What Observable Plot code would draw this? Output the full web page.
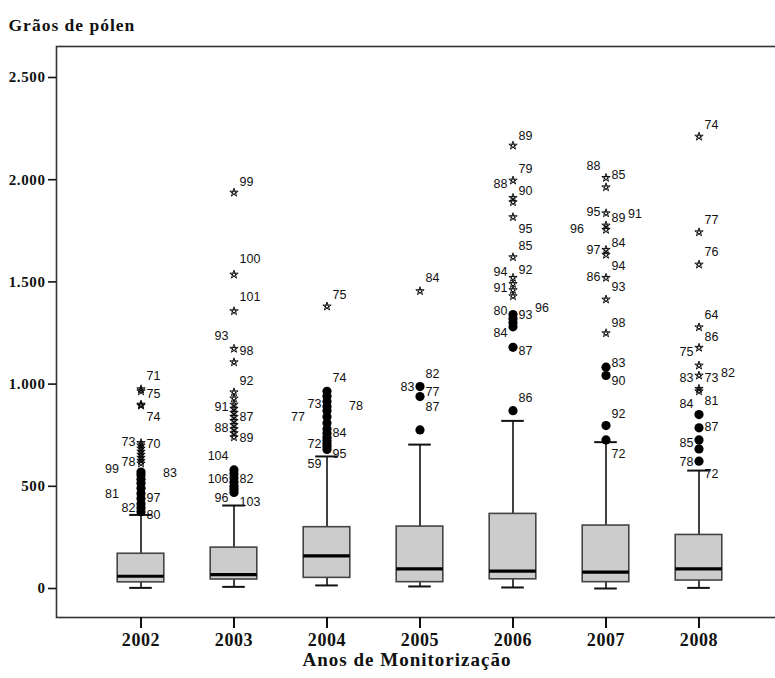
<!DOCTYPE html>
<html>
<head>
<meta charset="utf-8">
<script src="https://cdn.jsdelivr.net/npm/d3@7"></script>
<script src="https://cdn.jsdelivr.net/npm/@observablehq/plot@0.6"></script>
<style>
  html, body { margin: 0; padding: 0; background: #fff; }
  #wrap { width: 775px; height: 678px; overflow: hidden; }
  #wrap svg { max-width: none !important; overflow: visible; }
</style>
</head>
<body>
<div id="wrap"></div>
<script>
// Years of monitoring
const years = ["2002", "2003", "2004", "2005", "2006", "2007", "2008"];

// Box summaries per year (pollen grains)
const whiskerLow  = [3, 8, 15, 10, 5, 0, 3];
const quartile1   = [30, 44, 52, 31, 45, 31, 39];
const medianValue = [60, 68, 160, 96, 85, 80, 96];
const quartile3   = [170, 200, 300, 303, 365, 308, 262];
const whiskerHigh = [360, 406, 646, 704, 820, 716, 577];

// Outliers (circles)
const outlierYear = [
  "2002","2002","2002","2002","2002","2002","2002","2002","2002","2002",
  "2003","2003","2003","2003","2003","2003","2003",
  "2004","2004","2004","2004","2004","2004","2004","2004","2004","2004","2004","2004","2004","2004",
  "2005","2005","2005",
  "2006","2006","2006","2006","2006","2006",
  "2007","2007","2007","2007",
  "2008","2008","2008","2008","2008"
];
const outlierValue = [
  375, 395, 415, 440, 465, 490, 515, 535, 555, 570,
  470, 485, 500, 520, 540, 560, 580,
  680, 695, 710, 725, 740, 760, 780, 810, 840, 870, 890, 915, 940, 965,
  776, 939, 988,
  870, 1180, 1280, 1300, 1320, 1340,
  727, 797, 1042, 1083,
  623, 683, 727, 786, 851
];

// Extreme values (stars)
const extremeYear = [
  "2002","2002","2002","2002","2002","2002","2002","2002","2002","2002","2002","2002",
  "2003","2003","2003","2003","2003","2003","2003","2003","2003","2003","2003","2003","2003","2003","2003","2003",
  "2004",
  "2005",
  "2006","2006","2006","2006","2006","2006","2006","2006","2006","2006",
  "2007","2007","2007","2007","2007","2007","2007","2007","2007","2007",
  "2008","2008","2008","2008","2008","2008","2008","2008","2008"
];
const extremeValue = [
  612, 625, 640, 655, 670, 685, 700, 712, 895, 900, 965, 975,
  740, 760, 780, 800, 820, 840, 860, 880, 900, 930, 960, 1107, 1173, 1357, 1536, 1937,
  1380,
  1455,
  1430, 1460, 1490, 1520, 1621, 1817, 1890, 1911, 1996, 2167,
  1249, 1414, 1520, 1633, 1657, 1755, 1776, 1836, 1963, 2009,
  965, 977, 1042, 1091, 1178, 1278, 1585, 1743, 2211
];

// Case-number labels: year, text, height (pollen grains) and side lane
// (lane 1/2 = right of the marker, -1/-2 = left of it)
const labelYear = [
  "2002","2002","2002","2002","2002","2002","2002","2002","2002","2002","2002","2002",
  "2003","2003","2003","2003","2003","2003","2003","2003","2003","2003","2003","2003","2003","2003","2003",
  "2004","2004","2004","2004","2004","2004","2004","2004","2004",
  "2005","2005","2005","2005","2005",
  "2006","2006","2006","2006","2006","2006","2006","2006","2006","2006","2006","2006","2006","2006","2006",
  "2007","2007","2007","2007","2007","2007","2007","2007","2007","2007","2007","2007","2007","2007","2007","2007",
  "2008","2008","2008","2008","2008","2008","2008","2008","2008","2008","2008","2008","2008","2008","2008"
];
const labelText = [
  "71","75","74","73","70","78","99","83","81","97","82","80",
  "99","100","101","93","98","92","91","87","88","89","104","106","82","96","103",
  "75","74","73","78","77","84","72","95","59",
  "84","82","83","77","87",
  "89","79","88","90","95","85","94","92","91","80","93","96","84","87","86",
  "88","85","95","89","91","96","97","84","94","86","93","98","83","90","92","72",
  "74","77","76","64","86","75","83","73","82","84","81","87","85","78","72"
];
const labelValue = [
  1042, 954, 837, 719, 705, 621, 587, 563, 460, 445, 396, 362,
  1991, 1610, 1424, 1233, 1164, 1013, 890, 837, 783, 734, 646, 538, 538, 445, 421,
  1438, 1032, 905, 895, 841, 763, 709, 660, 611,
  1517, 1047, 988, 959, 886,
  2216, 2050, 1981, 1947, 1761, 1678, 1546, 1556, 1468, 1360, 1340, 1370, 1248, 1164, 934,
  2069, 2021, 1840, 1815, 1830, 1761, 1654, 1688, 1580, 1522, 1473, 1301, 1101, 1013, 856, 660,
  2270, 1805, 1644, 1336, 1228, 1155, 1032, 1032, 1052, 905, 915, 788, 714, 621, 558
];
const labelLane = [
  1, 1, 1, -1, 1, -1, -2, 2, -2, 1, -1, 1,
  1, 1, 1, -1, 1, 1, -1, 1, -1, 1, -1, -1, 1, -1, 1,
  1, 1, -1, 2, -2, 1, -1, 1, -1,
  1, 1, -1, 1, 1,
  1, 1, -1, 1, 1, 1, -1, 1, -1, -1, 1, 2, -1, 1, 1,
  -1, 1, -1, 1, 2, -2, -1, 1, 1, -1, 1, 1, 1, 1, 1, 1,
  1, 1, 1, 1, 1, -1, -1, 1, 2, -1, 1, 1, -1, -1, 1
];

const yTicks = [0, 500, 1000, 1500, 2000, 2500];

// Tables built from the arrays above
const boxes = years.map((year, i) => ({
  year, lo: whiskerLow[i], q1: quartile1[i], med: medianValue[i], q3: quartile3[i], hi: whiskerHigh[i]
}));
const outliers = outlierYear.map((year, i) => ({year, value: outlierValue[i]}));
const extremes = extremeYear.map((year, i) => ({year, value: extremeValue[i]}));
const labels = labelYear.map((year, i) => ({year, text: labelText[i], value: labelValue[i], lane: labelLane[i]}));

const thousands = v => d3.format(",")(v).replace(/,/g, ".");
const serif = "'Liberation Serif', 'Times New Roman', serif";
const sans = "'Liberation Sans', Arial, sans-serif";

// Pentagram outline used for extreme values
const pentagram = {
  draw(context, size) {
    const r = Math.sqrt(size / 3);
    for (let k = 0; k <= 5; ++k) {
      const a = -Math.PI / 2 + (k * 2 % 5) * 2 * Math.PI / 5;
      const px = r * Math.cos(a), py = r * Math.sin(a);
      if (k === 0) context.moveTo(px, py); else context.lineTo(px, py);
    }
    context.closePath();
  }
};

const laneMark = (lane, dx, anchor) => Plot.text(labels.filter(d => d.lane === lane), {
  x: "year", y: "value", text: "text", dx, textAnchor: anchor,
  fontFamily: sans, fontSize: 12.5, fontWeight: "normal", fill: "#111"
});

const chart = Plot.plot({
  width: 790,
  height: 678,
  marginLeft: 56,
  marginRight: 7,
  marginTop: 46,
  marginBottom: 61,
  style: {fontFamily: serif, fontWeight: "bold", fontSize: "15px", color: "#111", background: "#fff", maxWidth: "none"},
  x: {type: "band", domain: years, range: [92.3, 746.4], padding: 0},
  y: {domain: [0, 2500], range: [588, 77]},
  marks: [
    Plot.frame({stroke: "#333", strokeWidth: 1.6}),
    Plot.axisY({ticks: yTicks, tickFormat: thousands, tickSize: 8, tickPadding: 3, strokeWidth: 1.6, label: null, fontSize: 15}),
    Plot.axisX({tickSize: 11, tickPadding: 5, stroke: "#111", strokeWidth: 2, label: null, fontSize: 18}),
    // whiskers
    Plot.ruleX(boxes, {x: "year", y1: "lo", y2: "q1", stroke: "#111", strokeWidth: 1.6}),
    Plot.ruleX(boxes, {x: "year", y1: "q3", y2: "hi", stroke: "#111", strokeWidth: 1.6}),
    Plot.tickY(boxes, {x: "year", y: "lo", stroke: "#111", strokeWidth: 2, insetLeft: 35.2, insetRight: 35.2}),
    Plot.tickY(boxes, {x: "year", y: "hi", stroke: "#111", strokeWidth: 2, insetLeft: 35.2, insetRight: 35.2}),
    // boxes
    Plot.rect(boxes, {x: "year", y1: "q1", y2: "q3", fill: "#cccccc", stroke: "#444", strokeWidth: 1.6, insetLeft: 23.2, insetRight: 23.2}),
    Plot.tickY(boxes, {x: "year", y: "med", stroke: "#000", strokeWidth: 3.2, insetLeft: 23.2, insetRight: 23.2}),
    // outliers and extremes
    Plot.dot(outliers, {x: "year", y: "value", r: 4.6, fill: "#000", stroke: "none"}),
    Plot.dot(extremes, {x: "year", y: "value", symbol: pentagram, r: 4.3, fill: "none", stroke: "#000", strokeWidth: 0.9}),
    // case numbers
    laneMark(1, 5.5, "start"),
    laneMark(2, 22, "start"),
    laneMark(-1, -5.5, "end"),
    laneMark(-2, -22, "end"),
    // titles
    Plot.text(["Grãos de pólen"], {frameAnchor: "top-left", dx: -48, dy: -28, textAnchor: "start",
      fontFamily: serif, fontWeight: "bold", fontSize: 17.5, fill: "#111"}),
    Plot.text(["Anos de Monitorização"], {frameAnchor: "bottom", dx: -13, dy: 48,
      fontFamily: serif, fontWeight: "bold", fontSize: 19, fill: "#111"}),
    // short category ticks hanging below the frame
    Plot.ruleX(years, {x: d => d, insetTop: 571, insetBottom: -11, stroke: "#111", strokeWidth: 2})
  ]
});

chart.style.maxWidth = "none";
chart.querySelectorAll("[aria-label='x-axis tick label'] text, [aria-label='y-axis tick label'] text")
  .forEach(t => t.style.letterSpacing = "0.6px");
chart.querySelectorAll("text").forEach(t => {
  if (t.textContent === "Grãos de pólen" || t.textContent === "Anos de Monitorização") t.style.letterSpacing = "1px";
});
document.getElementById("wrap").appendChild(chart);
</script>
</body>
</html>
